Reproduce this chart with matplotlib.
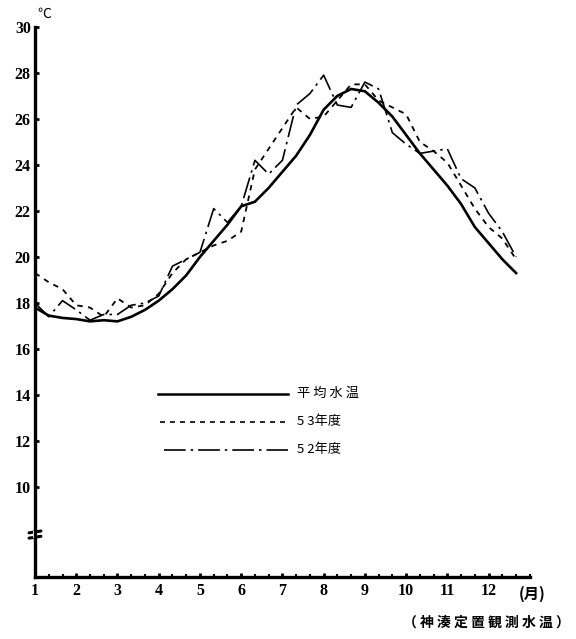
import numpy as np
import matplotlib
matplotlib.use("Agg")
import matplotlib.pyplot as plt
import matplotlib.transforms as mtransforms

# ---- data (10-day periods, 旬) ----
months = list(range(1, 13))
periods_per_month = 3
avg_temp = [17.8, 17.45, 17.35, 17.3, 17.2, 17.25, 17.2, 17.4, 17.7, 18.1, 18.6, 19.2,
            20.0, 20.7, 21.4, 22.2, 22.4, 23.0, 23.7, 24.4, 25.3, 26.4, 27.0, 27.3,
            27.2, 26.7, 26.1, 25.3, 24.5, 23.8, 23.1, 22.3, 21.3, 20.6, 19.9, 19.3]
y53_temp = [19.3, 18.9, 18.6, 17.9, 17.8, 17.4, 18.2, 17.8, 17.9, 18.4, 19.3, 19.9,
            20.2, 20.5, 20.7, 21.1, 23.8, 24.7, 25.6, 26.5, 26.0, 26.1, 26.8, 27.5,
            27.5, 26.8, 26.5, 26.2, 25.0, 24.6, 24.1, 23.1, 22.1, 21.3, 20.8, 19.9]
y52_temp = [18.0, 17.4, 18.1, 17.7, 17.25, 17.5, 17.5, 17.9, 18.0, 18.3, 19.6, 19.9,
            20.2, 22.1, 21.5, 22.2, 24.2, 23.6, 24.2, 26.6, 27.1, 27.9, 26.6, 26.5,
            27.6, 27.3, 25.4, 24.9, 24.5, 24.6, 24.7, 23.4, 23.0, 21.9, 21.1, 20.0]
series_labels = ["平 均 水 温", "5 3年度", "5 2年度"]
ytick_values = [10, 12, 14, 16, 18, 20, 22, 24, 26, 28, 30]
xtick_labels = [str(m) for m in months]
unit_y = "℃"
unit_x = "(月)"
footnote = "（ 神 湊 定 置 観 測 水 温 ）"

x = np.array([m + k / periods_per_month for m in months for k in range(periods_per_month)])[:len(avg_temp)]

# ---- figure ----
fig = plt.figure(figsize=(5.76, 6.39), dpi=100)
ax = fig.add_axes([0.0608, 0.097, 0.859, 0.861])

num_font = dict(family="Liberation Serif", weight="bold", size=11.5)
jp = ["Noto Sans CJK JP", "DejaVu Sans"]

ax.plot(x, avg_temp, color="black", lw=1.9, solid_joinstyle="miter")
ax.plot(x, y53_temp, color="black", lw=1.3, linestyle=(0, (3, 3)))
ax.plot(x, y52_temp, color="black", lw=1.2, linestyle=(0, (13, 3, 1.5, 3)))

ax.set_xlim(1, 13)
ax.set_ylim(6.09, 30)

for s in ["top", "right"]:
    ax.spines[s].set_visible(False)
ax.spines["left"].set_linewidth(2.4)
ax.spines["bottom"].set_linewidth(2.4)

ax.set_yticks(ytick_values)
ax.set_yticklabels([str(v) for v in ytick_values], fontdict=num_font)
ax.set_xticks(months)
ax.set_xticklabels(xtick_labels, fontdict=num_font)
ax.set_xticks(np.arange(1, 13 + 1e-9, 1 / 3), minor=True)
ax.tick_params(axis="y", direction="in", length=3, width=2, pad=3)
ax.tick_params(axis="x", which="major", direction="in", length=3, width=2, pad=4)
ax.tick_params(axis="x", which="minor", direction="in", length=2.5, width=1.5)

# axis break on the y axis
trans_b = mtransforms.blended_transform_factory(ax.transAxes, ax.transData)
for yy in (7.82, 8.05):
    ax.plot([-0.012, 0.012], [yy - 0.04, yy + 0.04], color="black", lw=2.2,
            transform=trans_b, clip_on=False, solid_capstyle="round")
ax.plot([0, 0], [7.88, 7.99], color="white", lw=3, transform=trans_b, clip_on=False)

# unit labels
ax.text(0.004, 30.25, unit_y, family=jp, fontsize=10, ha="left", va="bottom",
        transform=trans_b)
trans_x = mtransforms.blended_transform_factory(ax.transData, ax.transAxes)
ax.text(13.05, -0.015, unit_x, family=jp, fontsize=11, weight="bold",
        ha="center", va="top", transform=trans_x)

# legend (drawn manually)
leg_y = [0.333, 0.282, 0.231]
leg_x0 = [0.248, 0.253, 0.260]
styles = [dict(lw=1.8, linestyle="-"),
          dict(lw=1.2, linestyle=(0, (3, 3))),
          dict(lw=1.2, linestyle=(0, (13, 3, 1.5, 3)))]
for x0, yy, st, lab in zip(leg_x0, leg_y, styles, series_labels):
    ax.plot([x0, 0.511], [yy, yy], color="black", transform=ax.transAxes,
            clip_on=False, **st)
    ax.text(0.529, yy, lab, family=jp, fontsize=9.5, ha="left", va="center",
            transform=ax.transAxes)

fig.text(0.99, 0.026, footnote, family=jp, fontsize=10, weight="bold",
         ha="right", va="center")

fig.savefig("out.png", dpi=100, facecolor="white")
